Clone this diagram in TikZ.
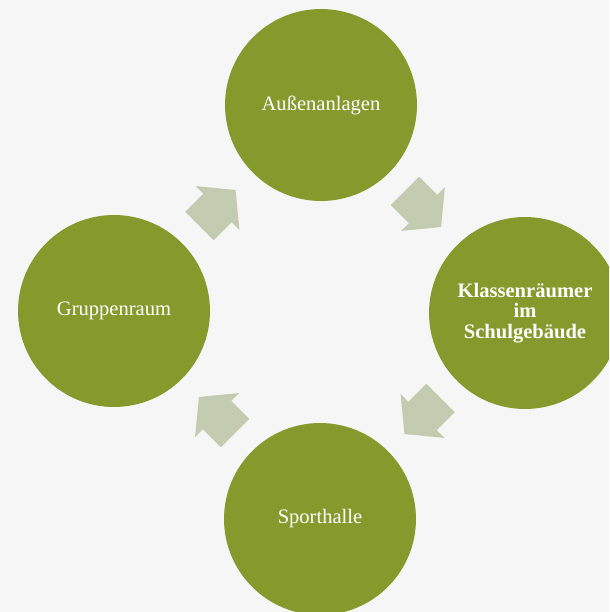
\documentclass[tikz,border=0pt]{standalone}
\usepackage{fontspec}
\setmainfont{Liberation Serif}
\usetikzlibrary{calc}
\definecolor{leafgreen}{RGB}{134,153,44}
\definecolor{sage}{RGB}{195,203,176}
\definecolor{paper}{RGB}{246,246,246}
\tikzset{
  room/.style={circle, fill=leafgreen, minimum size=3.84cm, inner sep=0pt, text=white, align=center, font=\fontsize{11.7}{11.5}\selectfont},
  flow/.style={fill=sage}
}
\begin{document}
\begin{tikzpicture}[x=0.02cm, y=-0.02cm]
\clip (0,0) rectangle (609,612);
\fill[color=paper] (0,0) rectangle (609,612);
\node[room] (aussen) at (321,105) {Außenanlagen};
\node[room, font=\fontsize{11.7}{11.5}\selectfont\bfseries] (klasse) at (525,313) {Klassenräumer\\im\\Schulgebäude};
\node[room] (sport) at (320,519) {Sporthalle};
\node[room] (gruppe) at (114,311) {Gruppenraum};
\fill[flow, shift={($(aussen)!0.5!(klasse)$)}, rotate=-45] (-25.5,-20) -- (0,-20) -- (0,-31) -- (25.5,0) -- (0,31) -- (0,20) -- (-25.5,20) -- cycle;
\fill[flow, shift={($(klasse)!0.5!(sport)$)}, rotate=-135] (-25.5,-20) -- (0,-20) -- (0,-31) -- (25.5,0) -- (0,31) -- (0,20) -- (-25.5,20) -- cycle;
\fill[flow, shift={($(sport)!0.5!(gruppe)$)}, rotate=135] (-25.5,-20) -- (0,-20) -- (0,-31) -- (25.5,0) -- (0,31) -- (0,20) -- (-25.5,20) -- cycle;
\fill[flow, shift={($(gruppe)!0.5!(aussen)$)}, rotate=45] (-25.5,-20) -- (0,-20) -- (0,-31) -- (25.5,0) -- (0,31) -- (0,20) -- (-25.5,20) -- cycle;
\end{tikzpicture}
\end{document}
